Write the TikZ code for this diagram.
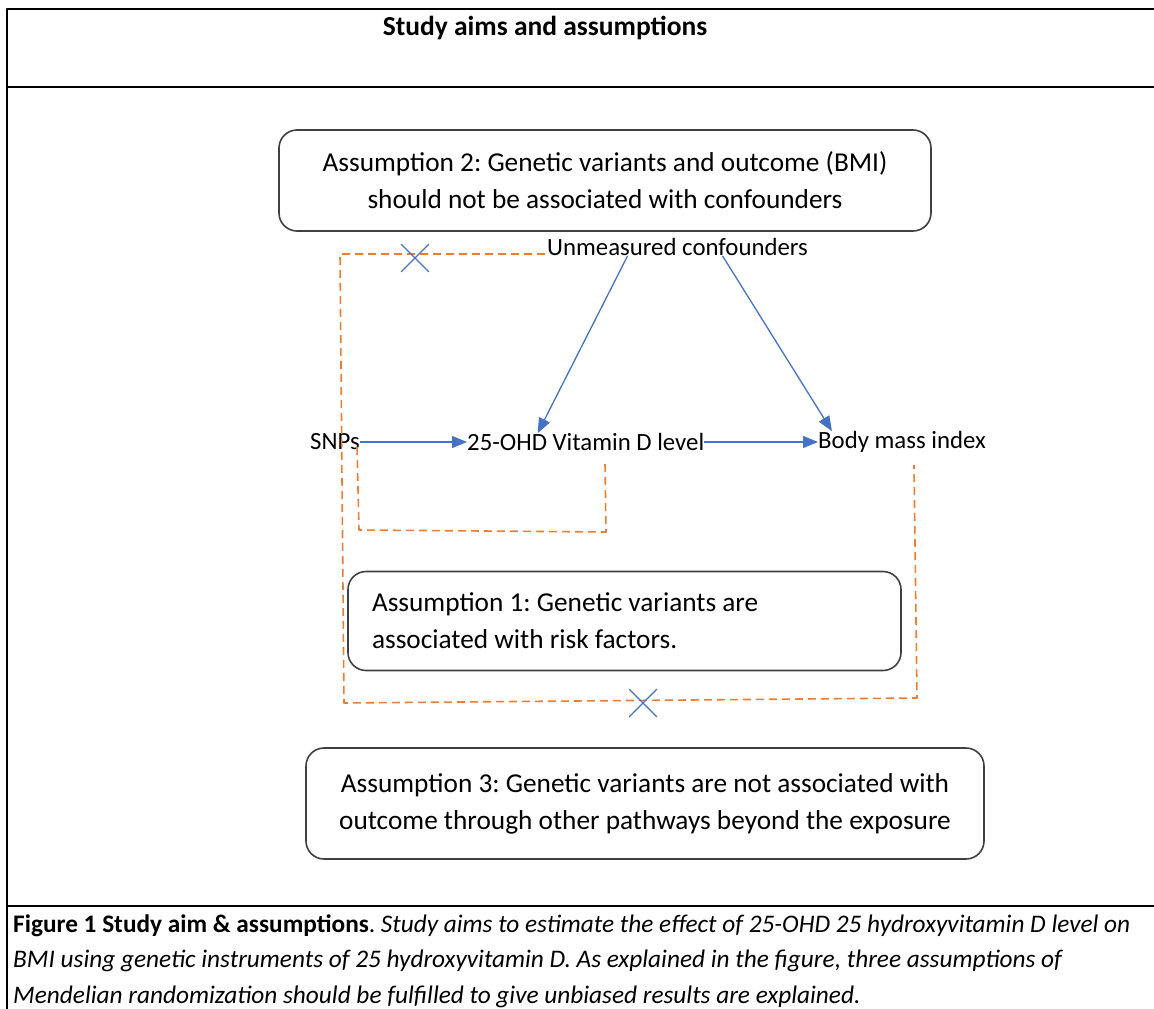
\documentclass[tikz,border=0pt]{standalone}
\usepackage{fontspec}
\setmainfont{Carlito}
\usetikzlibrary{arrows.meta,shapes.misc}
\definecolor{mrblue}{HTML}{4472C4}
\definecolor{mrorange}{HTML}{ED7D31}
\frenchspacing

\begin{document}
\begin{tikzpicture}[x=1pt, y=-1pt, line cap=round, line join=round, >={Triangle[length=15pt,width=12pt]}]
	\tikzset{box/.style={draw=black!75, line width=1.6pt, rounded corners=18pt, font=\fontsize{27.3}{37}\selectfont},
		lbl/.style={inner sep=0pt, font=\fontsize{24.8}{28}\selectfont},
		arr/.style={->, draw=mrblue, line width=1.3pt, line cap=butt},
		dsh/.style={draw=mrorange, line width=1.6pt, dash pattern=on 8pt off 5pt, line cap=butt}}
	\useasboundingbox (0,0) rectangle (1154,1009);
	% frame and title
	\draw[line width=1.6pt] (1154,9) -- (7,9) -- (7,1009) (7,87) -- (1154,87) (7,906) -- (1154,906);
	\node[font=\bfseries\fontsize{27.5}{30}\selectfont] (title) at (545,28) {Study aims and assumptions};
	% assumption boxes
	\node[box, minimum width=652pt, minimum height=101pt, align=center] (asm2) at (605,180.5)
		{Assumption 2: Genetic variants and outcome (BMI)\\should not be associated with confounders};
	\node[box, text width=505pt, inner xsep=24pt, minimum height=99pt, align=left] (asm1) at (624.5,621)
		{\spaceskip=0pt\xspaceskip=0pt Assumption 1: Genetic variants are\\associated with risk factors.};
	\node[box, minimum width=678pt, minimum height=111pt, align=center] (asm3) at (645,803.5)
		{Assumption 3: Genetic variants are not associated with\\outcome through other pathways beyond the exposure};
	% variables
	\node[lbl, anchor=west] (conf) at (547,247) {Unmeasured confounders};
	\node[lbl, anchor=west] (snp) at (310,442) {SNPs};
	\node[lbl, anchor=west] (vitd) at (467,442) {25-OHD Vitamin D level};
	\node[lbl, anchor=west] (bmi) at (818,442) {Body mass index};
	\draw[arr] (snp.east) -- (vitd.west);
	\draw[arr] (vitd.east) -- (bmi.west);
	\draw[arr] ([xshift=-50pt]conf.south) -- ([xshift=-48pt]vitd.north);
	\draw[arr] ([xshift=45pt]conf.south) -- ([xshift=14pt]bmi.north west);
	% violated paths
	\draw[dsh] ([shift={(-2pt,-7pt)}]conf.west) -- (340,254) -- (344,703) -- (917,698) -- (914,465);
	\draw[dsh] (357,447) -- (359,530) -- (606,532) -- (605,463);
	\foreach \n/\x/\y in {xa/415/258, xb/643/703}
		\node[cross out, draw=mrblue, line width=1.3pt, minimum size=26pt, inner sep=0pt] (\n) at (\x,\y) {};
	% caption
	\node[anchor=north west, align=left, inner sep=0pt, font=\fontsize{25.3}{35.5}\selectfont] (cap) at (13,914)
		{\spaceskip=0pt\xspaceskip=0pt\textbf{Figure 1 Study aim \& assumptions}. \textit{Study aims to estimate the effect of 25-OHD 25 hydroxyvitamin D level on}\\
		\textit{BMI using genetic instruments of 25 hydroxyvitamin D. As explained in the figure, three assumptions of}\\
		\textit{Mendelian randomization should be fulfilled to give unbiased results are explained.}};
\end{tikzpicture}
\end{document}
